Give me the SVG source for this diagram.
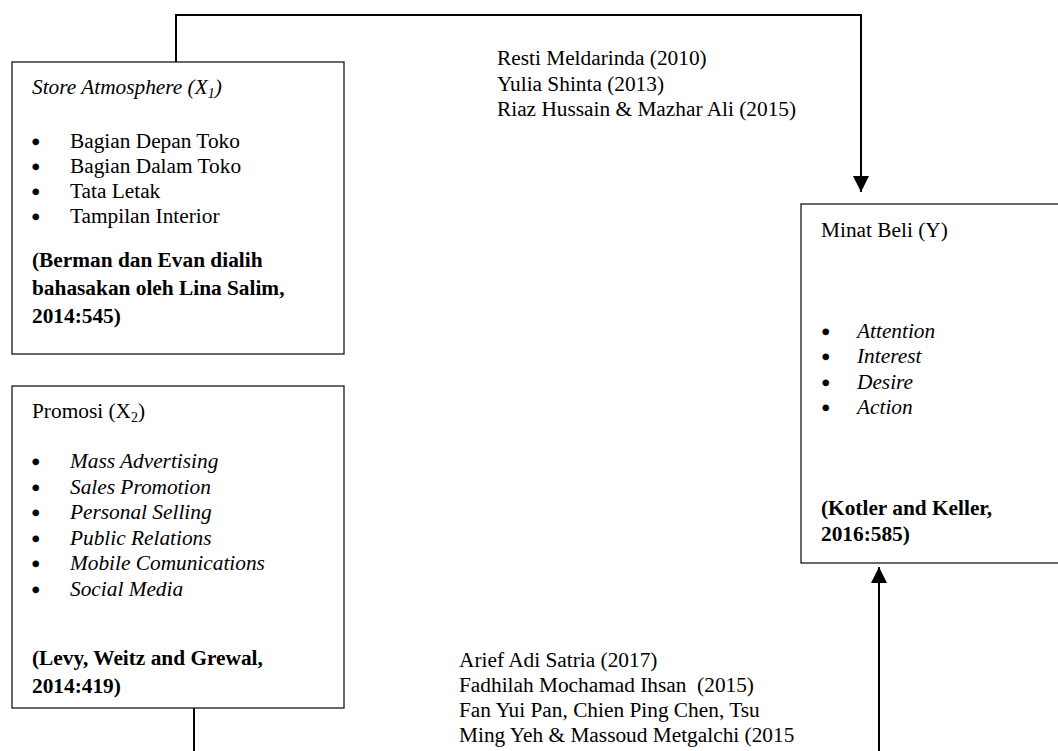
<svg xmlns="http://www.w3.org/2000/svg" width="1058" height="751" viewBox="0 0 1058 751">
<style>
.t{font-family:"Liberation Serif","Times New Roman",serif;font-size:21.33px;fill:#000}
.i{font-style:italic}
.b{font-weight:bold}
.bu{font-family:"Liberation Serif","Times New Roman",serif;font-size:21.33px;font-weight:bold;fill:#000;stroke:#000;stroke-width:0.8}
.box{fill:#fff;stroke:#1a1a1a;stroke-width:1.3}
.conn{fill:none;stroke:#000;stroke-width:2}
</style>
<defs>
<marker id="arr" viewBox="0 0 16 16" refX="16" refY="8" markerWidth="16" markerHeight="16" orient="auto" markerUnits="userSpaceOnUse">
<path d="M0,0 L16,8 L0,16 Z" fill="#000"/>
</marker>
</defs>
<rect width="1058" height="751" fill="#fff"/>
<g id="connectors">
<path class="conn" d="M176,62 V15 H861 V192" marker-end="url(#arr)"/>
<path class="conn" d="M194,708 V751"/>
<path class="conn" d="M879,751 V567" marker-end="url(#arr)"/>
</g>
<g id="node-x1">
<rect class="box" x="12" y="62" width="332" height="292"/>
<text class="t i" x="32" y="94">Store Atmosphere (X<tspan font-size="14" dy="4">1</tspan><tspan dy="-4">)</tspan></text>
<text class="bu" x="32" y="149">•</text><text class="t" x="70" y="148">Bagian Depan Toko</text>
<text class="bu" x="32" y="174">•</text><text class="t" x="70" y="173">Bagian Dalam Toko</text>
<text class="bu" x="32" y="199">•</text><text class="t" x="70" y="198">Tata Letak</text>
<text class="bu" x="32" y="224">•</text><text class="t" x="70" y="223">Tampilan Interior</text>
<text class="t b" x="32" y="267">(Berman dan Evan dialih</text>
<text class="t b" x="32" y="295">bahasakan oleh Lina Salim,</text>
<text class="t b" x="32" y="323">2014:545)</text>
</g>
<g id="node-x2">
<rect class="box" x="12" y="386" width="332" height="322"/>
<text class="t" x="32" y="418">Promosi (X<tspan font-size="14" dy="4">2</tspan><tspan dy="-4">)</tspan></text>
<text class="bu" x="32" y="469">•</text><text class="t i" x="70" y="468">Mass Advertising</text>
<text class="bu" x="32" y="494.5">•</text><text class="t i" x="70" y="493.5">Sales Promotion</text>
<text class="bu" x="32" y="520">•</text><text class="t i" x="70" y="519">Personal Selling</text>
<text class="bu" x="32" y="545.5">•</text><text class="t i" x="70" y="544.5">Public Relations</text>
<text class="bu" x="32" y="571">•</text><text class="t i" x="70" y="570">Mobile Comunications</text>
<text class="bu" x="32" y="596.5">•</text><text class="t i" x="70" y="595.5">Social Media</text>
<text class="t b" x="32" y="665">(Levy, Weitz and Grewal,</text>
<text class="t b" x="32" y="693">2014:419)</text>
</g>
<g id="node-y">
<rect class="box" x="801" y="204" width="280" height="359"/>
<text class="t" x="821" y="237">Minat Beli (Y)</text>
<text class="bu" x="822" y="339">•</text><text class="t i" x="857" y="338">Attention</text>
<text class="bu" x="822" y="364">•</text><text class="t i" x="857" y="363">Interest</text>
<text class="bu" x="822" y="390">•</text><text class="t i" x="857" y="389">Desire</text>
<text class="bu" x="822" y="415">•</text><text class="t i" x="857" y="414">Action</text>
<text class="t b" x="821" y="515">(Kotler and Keller,</text>
<text class="t b" x="821" y="541">2016:585)</text>
</g>
<g id="label-top">
<text class="t" x="497" y="65">Resti Meldarinda (2010)</text>
<text class="t" x="497" y="90.5">Yulia Shinta (2013)</text>
<text class="t" x="497" y="116">Riaz Hussain &amp; Mazhar Ali (2015)</text>
</g>
<g id="label-bottom">
<text class="t" x="459" y="667">Arief Adi Satria (2017)</text>
<text class="t" x="459" y="692" xml:space="preserve">Fadhilah Mochamad Ihsan  (2015)</text>
<text class="t" x="459" y="717">Fan Yui Pan, Chien Ping Chen, Tsu</text>
<text class="t" x="459" y="742">Ming Yeh &amp; Massoud Metgalchi (2015</text>
</g>
</svg>
